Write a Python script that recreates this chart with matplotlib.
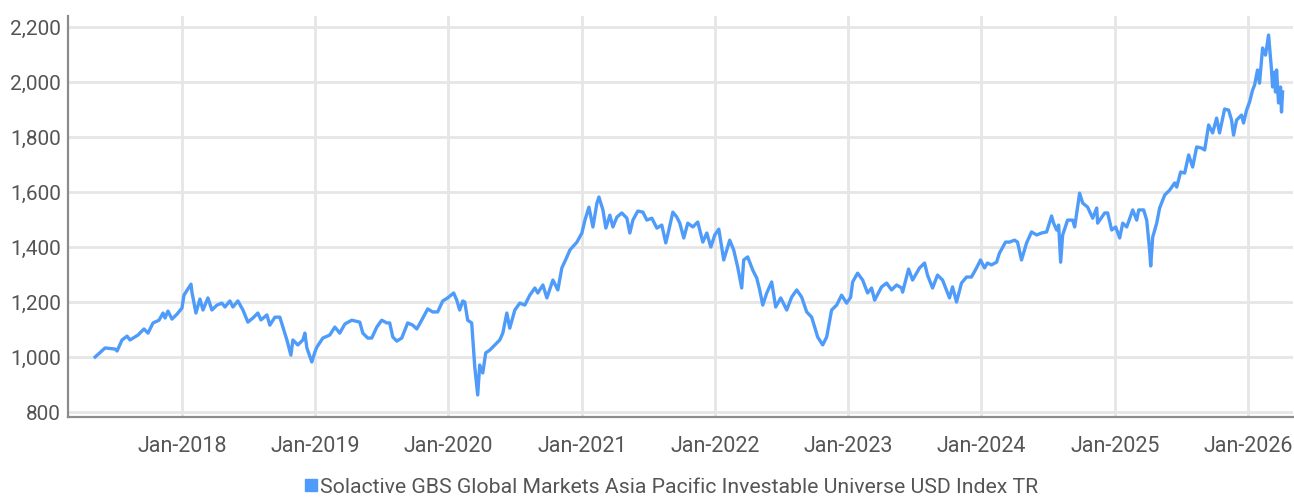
import datetime as dt
import matplotlib
matplotlib.use("Agg")
import matplotlib.pyplot as plt
import matplotlib.dates as mdates
from matplotlib.lines import Line2D
from matplotlib import font_manager
from matplotlib.ticker import FuncFormatter

# time as decimal year
t_years = [
    2017.348, 2017.423, 2017.498, 2017.513, 2017.550, 2017.588, 2017.610, 2017.670, 2017.715, 2017.745,
    2017.783, 2017.828, 2017.858, 2017.873, 2017.895, 2017.925, 2017.963, 2018.000, 2018.015, 2018.068,
    2018.075, 2018.105, 2018.135, 2018.158, 2018.195, 2018.225, 2018.263, 2018.300, 2018.323, 2018.360,
    2018.383, 2018.420, 2018.458, 2018.495, 2018.533, 2018.570, 2018.593, 2018.638, 2018.660, 2018.698,
    2018.735, 2018.765, 2018.788, 2018.818, 2018.833, 2018.870, 2018.908, 2018.923, 2018.938, 2018.975,
    2018.998, 2019.013, 2019.058, 2019.110, 2019.148, 2019.185, 2019.223, 2019.275, 2019.335, 2019.358,
    2019.395, 2019.425, 2019.463, 2019.500, 2019.538, 2019.560, 2019.583, 2019.613, 2019.650, 2019.695,
    2019.733, 2019.763, 2019.800, 2019.845, 2019.883, 2019.920, 2019.958, 2019.995, 2020.040, 2020.063,
    2020.085, 2020.108, 2020.123, 2020.145, 2020.175, 2020.198, 2020.220, 2020.235, 2020.258, 2020.280,
    2020.310, 2020.348, 2020.385, 2020.408, 2020.438, 2020.460, 2020.498, 2020.535, 2020.573, 2020.610,
    2020.648, 2020.670, 2020.708, 2020.738, 2020.783, 2020.820, 2020.850, 2020.888, 2020.910, 2020.963,
    2021.000, 2021.023, 2021.053, 2021.083, 2021.113, 2021.128, 2021.158, 2021.180, 2021.210, 2021.233,
    2021.263, 2021.300, 2021.338, 2021.360, 2021.383, 2021.420, 2021.458, 2021.488, 2021.525, 2021.563,
    2021.600, 2021.630, 2021.653, 2021.683, 2021.713, 2021.735, 2021.765, 2021.795, 2021.833, 2021.870,
    2021.908, 2021.938, 2021.968, 2021.998, 2022.028, 2022.065, 2022.110, 2022.140, 2022.170, 2022.200,
    2022.215, 2022.245, 2022.283, 2022.313, 2022.335, 2022.358, 2022.388, 2022.425, 2022.455, 2022.493,
    2022.538, 2022.575, 2022.613, 2022.650, 2022.688, 2022.725, 2022.748, 2022.770, 2022.808, 2022.838,
    2022.875, 2022.913, 2022.950, 2022.988, 2023.018, 2023.033, 2023.070, 2023.108, 2023.145, 2023.175,
    2023.198, 2023.250, 2023.288, 2023.325, 2023.363, 2023.400, 2023.408, 2023.453, 2023.483, 2023.535,
    2023.573, 2023.595, 2023.633, 2023.670, 2023.708, 2023.760, 2023.783, 2023.813, 2023.850, 2023.888,
    2023.925, 2023.963, 2023.993, 2024.023, 2024.045, 2024.075, 2024.113, 2024.135, 2024.180, 2024.210,
    2024.248, 2024.270, 2024.300, 2024.338, 2024.375, 2024.413, 2024.450, 2024.488, 2024.525, 2024.540,
    2024.563, 2024.578, 2024.593, 2024.608, 2024.645, 2024.683, 2024.698, 2024.735, 2024.758, 2024.795,
    2024.833, 2024.863, 2024.870, 2024.923, 2024.945, 2024.975, 2025.005, 2025.035, 2025.058, 2025.088,
    2025.133, 2025.163, 2025.178, 2025.215, 2025.238, 2025.260, 2025.268, 2025.283, 2025.313, 2025.335,
    2025.373, 2025.410, 2025.448, 2025.463, 2025.493, 2025.523, 2025.553, 2025.583, 2025.613, 2025.650,
    2025.673, 2025.703, 2025.733, 2025.763, 2025.785, 2025.823, 2025.853, 2025.875, 2025.890, 2025.913,
    2025.950, 2025.965, 2025.988, 2026.010, 2026.033, 2026.048, 2026.070, 2026.085, 2026.108, 2026.130,
    2026.153, 2026.175, 2026.183, 2026.198, 2026.205, 2026.213, 2026.228, 2026.243, 2026.250, 2026.258,
]

index_values = [
    1000, 1033, 1029, 1022, 1062, 1076, 1062, 1080, 1102, 1087,
    1124, 1134, 1160, 1142, 1167, 1138, 1156, 1178, 1225, 1265,
    1236, 1160, 1211, 1171, 1215, 1171, 1189, 1196, 1182, 1204,
    1182, 1204, 1171, 1127, 1142, 1160, 1135, 1153, 1116, 1145,
    1145, 1098, 1062, 1007, 1062, 1044, 1062, 1087, 1033, 982,
    1018, 1036, 1069, 1080, 1109, 1087, 1120, 1134, 1127, 1087,
    1069, 1069, 1109, 1134, 1124, 1124, 1073, 1058, 1069, 1124,
    1116, 1102, 1134, 1175, 1164, 1164, 1204, 1215, 1233, 1207,
    1171, 1204, 1200, 1134, 1124, 964, 862, 971, 942, 1015,
    1025, 1044, 1062, 1087, 1160, 1105, 1171, 1196, 1189, 1225,
    1251, 1233, 1262, 1215, 1280, 1244, 1324, 1364, 1389, 1418,
    1451, 1498, 1545, 1473, 1560, 1582, 1535, 1469, 1516, 1473,
    1509, 1524, 1505, 1451, 1498, 1531, 1527, 1498, 1505, 1469,
    1480, 1415, 1462, 1527, 1509, 1487, 1433, 1487, 1473, 1491,
    1418, 1451, 1400, 1444, 1465, 1353, 1425, 1389, 1327, 1251,
    1353, 1364, 1316, 1287, 1244, 1189, 1233, 1273, 1182, 1215,
    1171, 1218, 1244, 1218, 1164, 1145, 1109, 1073, 1044, 1073,
    1171, 1189, 1225, 1196, 1218, 1273, 1305, 1280, 1233, 1251,
    1207, 1255, 1269, 1244, 1262, 1251, 1236, 1320, 1280, 1324,
    1342, 1298, 1251, 1298, 1280, 1215, 1255, 1200, 1269, 1291,
    1291, 1324, 1353, 1324, 1342, 1335, 1345, 1378, 1418, 1418,
    1425, 1418, 1353, 1415, 1455, 1444, 1451, 1455, 1513, 1487,
    1462, 1480, 1345, 1444, 1498, 1498, 1473, 1596, 1560, 1545,
    1505, 1542, 1487, 1524, 1524, 1462, 1473, 1433, 1487, 1473,
    1535, 1498, 1535, 1535, 1498, 1389, 1331, 1436, 1487, 1542,
    1589, 1607, 1633, 1618, 1673, 1669, 1735, 1691, 1764, 1760,
    1753, 1844, 1815, 1869, 1815, 1902, 1898, 1862, 1807, 1862,
    1880, 1851, 1898, 1927, 1971, 1989, 2044, 1996, 2124, 2098,
    2171, 2044, 1982, 2036, 1964, 2044, 1924, 1982, 1891, 1964,
]

series_name = "Solactive GBS Global Markets Asia Pacific Investable Universe USD Index TR"
tick_years = [2018, 2019, 2020, 2021, 2022, 2023, 2024, 2025, 2026]
y_ticks = [800, 1000, 1200, 1400, 1600, 1800, 2000, 2200]


def to_date(t):
    y = int(t)
    start = dt.datetime(y, 1, 1)
    days = (dt.datetime(y + 1, 1, 1) - start).days
    return start + dt.timedelta(days=(t - y) * days)


installed = {f.name for f in font_manager.fontManager.ttflist}
fam = "Liberation Sans Narrow" if "Liberation Sans Narrow" in installed else "Roboto"
plt.rcParams["font.family"] = [fam, "DejaVu Sans"]

dates = [to_date(t) for t in t_years]
line_color = "#4f9bfa"
grey_text = "#555555"

fig = plt.figure(figsize=(12.94, 4.98), dpi=100)
ax = fig.add_axes([0.0526, 0.1627, 0.947, 0.805])

ax.plot(dates, index_values, color=line_color, linewidth=2.4, solid_joinstyle="round")

ax.set_xlim(to_date(2017.145), to_date(2026.34))
ax.set_ylim(782, 2240)
ax.set_yticks(y_ticks)
ax.yaxis.set_major_formatter(FuncFormatter(lambda v, p: f"{int(v):,}"))
ax.set_xticks([dt.datetime(y, 1, 1) for y in tick_years])
ax.xaxis.set_major_formatter(mdates.DateFormatter("%b-%Y"))

ax.grid(True, color="#e6e6e6", linewidth=2.0)
ax.set_axisbelow(True)
for s in ["top", "right"]:
    ax.spines[s].set_visible(False)
for s in ["left", "bottom"]:
    ax.spines[s].set_color("#8c8c8c")
    ax.spines[s].set_linewidth(1.6)
ax.tick_params(axis="both", length=0, labelcolor=grey_text)
ax.tick_params(axis="x", pad=14, labelsize=15.5)
ax.tick_params(axis="y", pad=5, labelsize=15)

handle = Line2D([], [], marker="s", linestyle="none", color=line_color, markersize=8)
fig.legend([handle], [series_name], loc="center", bbox_to_anchor=(0.518, 0.022),
           frameon=False, fontsize=15.3, labelcolor=grey_text, handletextpad=0.05,
           handlelength=0.8, borderaxespad=0)

fig.savefig("out.png", dpi=100)
